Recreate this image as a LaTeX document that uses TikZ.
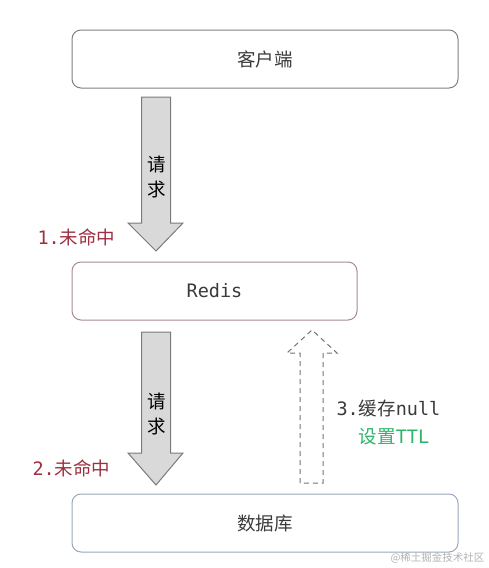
\documentclass[tikz,border=0pt]{standalone}
\usepackage{fontspec}
\setmainfont{Noto Sans CJK SC}
\newfontfamily\monofam{DejaVu Sans Mono}
\usetikzlibrary{positioning}
\definecolor{txtgray}{HTML}{3A3A3A}
\definecolor{missred}{HTML}{9E2F3F}
\definecolor{ttlgreen}{HTML}{2DB36A}
\definecolor{redisline}{HTML}{A88A94}
\definecolor{dbline}{HTML}{9AA6BA}

\begin{document}
\begin{tikzpicture}[x=1pt,y=-1pt,font=\fontsize{18.5}{25}\selectfont,
    box/.style={draw=black!50,line width=1pt,rounded corners=9pt,minimum height=58pt,align=center,text=txtgray},
    fatarrow/.style={draw=black!52,fill=black!15,line width=1pt},
    nullarrow/.style={draw=black!55,dashed,dash pattern=on 5pt off 4pt,line width=1pt},
    miss/.style={text=missred,anchor=west}]
    \useasboundingbox (0,0) rectangle (488,568);
    \node[box,minimum width=386pt](client) at (265,59){客户端};
    \node[box,draw=redisline,minimum width=285pt](redis) at (214.5,291){\monofam Redis};
    \node[box,draw=dbline,minimum width=386pt](db) at (265,523){数据库};
    % request arrows
    \foreach \top/\base/\tip/\mid/\name in {97/223/251/177/req1,332/453/485/414/req2}{
      \draw[fatarrow](141.5,\top)--(170.5,\top)--(170.5,\base)--(183,\base)--(156,\tip)
        --(128,\base)--(141.5,\base)--cycle;
      \node[text=black,align=center,inner sep=0pt](\name) at (157,\mid){请\\求};
    }
    \node[miss](miss1) at (34,237){{\monofam 1.}未命中};
    \node[miss](miss2) at (29,468){{\monofam 2.}未命中};
    % write back to cache
    \draw[nullarrow](300,483)--(300,353)--(287,353)--(312,330)--(337,353)--(323,353)--(323,483)--cycle;
    \node[anchor=west,text=txtgray](cache) at (333,408){{\monofam 3.}缓存{\monofam null}};
    \node[text=ttlgreen](ttl) at (394,437){设置{\monofam TTL}};
    \node[anchor=east,text=black!30,font=\fontsize{10.5}{12}\selectfont](mark) at (488,558){@稀土掘金技术社区};
  \end{tikzpicture}
\end{document}
